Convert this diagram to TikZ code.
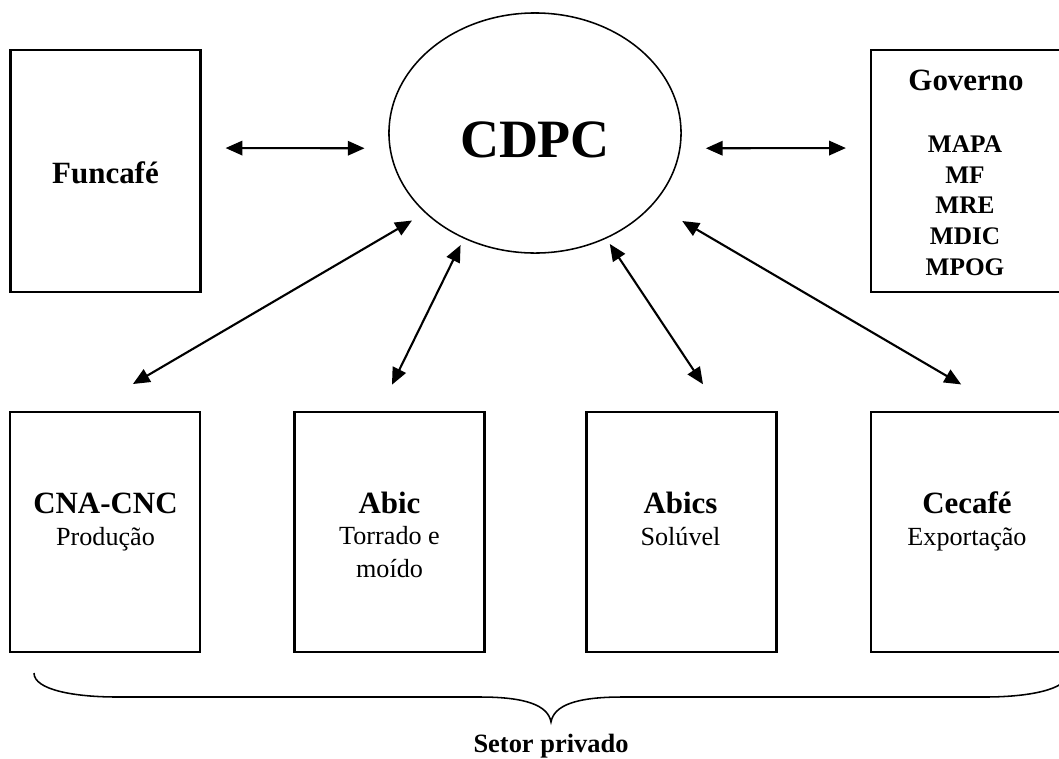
\documentclass[tikz,border=0pt]{standalone}
\usepackage{fontspec}
\setmainfont{Liberation Serif}
\usetikzlibrary{arrows.meta,shapes.geometric}

\begin{document}
\begin{tikzpicture}[
    x=0.025cm, y=-0.025cm,
    orgbox/.style={draw, line width=1.5pt, minimum width=4.75cm, minimum height=6cm, inner sep=0pt},
    link/.style={<->, >={Triangle[length=0.42cm, width=0.36cm]}, line width=1.5pt},
    orgname/.style={anchor=base, font=\fontsize{22}{26}\selectfont\bfseries},
    orgtask/.style={anchor=base, align=center, font=\fontsize{18.6}{22.8}\selectfont}
]
\useasboundingbox (0,0) rectangle (1059,758);
\clip (0,0) rectangle (1059,758);

% top row
\node[orgbox, minimum height=6.05cm] (funcafe) at (105.5,171) {};
\node[orgbox, minimum height=6.05cm] (governo) at (966,171) {};
\node[draw, ellipse, line width=1.1pt, minimum width=7.3cm, minimum height=6cm] (cdpc) at (535,133) {};

\node[anchor=base, font=\fontsize{38.4}{40}\selectfont\bfseries] (cdpc-t) at (535,157) {CDPC};
\node[orgname] (funcafe-t) at (105.5,183) {Funcafé};
\node[orgname] (governo-t) at (966,90) {Governo};
% base of a multi-line node is its last line
\node[anchor=base, align=center, font=\fontsize{18}{21.7}\selectfont\bfseries] (governo-l) at (965,275) {MAPA\\MF\\MRE\\MDIC\\MPOG};

% private sector
\node[orgbox] (cna) at (105,532) {};
\node[orgbox] (abic) at (389.5,532) {};
\node[orgbox] (abics) at (681.5,532) {};
\node[orgbox] (cecafe) at (966,532) {};

\node[orgname] (cna-t) at (105.5,513) {CNA-CNC};
\node[orgtask] (cna-s) at (105.5,545) {Produção};
\node[orgname] (abic-t) at (389.5,513) {Abic};
\node[orgtask] (abic-s) at (389.5,577) {Torrado e\\moído};
\node[orgname] (abics-t) at (680.5,513) {Abics};
\node[orgtask] (abics-s) at (680.5,545) {Solúvel};
\node[orgname] (cecafe-t) at (967,513) {Cecafé};
\node[orgtask] (cecafe-s) at (967,545) {Exportação};

% links
\draw[link, shorten <=0.6cm, shorten >=0.62cm] ([yshift=0.575cm]funcafe.east) -- (cdpc.186);
\draw[link, shorten <=0.63cm, shorten >=0.6cm] (cdpc.354) -- ([yshift=0.575cm]governo.west);
\draw[link, shorten <=0.375cm, shorten >=1.33cm] (cdpc.216) -- ([xshift=-0.45cm]cna.north);
\draw[link, shorten <=0.18cm, shorten >=0.73cm] (cdpc.236.5) -- ([xshift=-0.26cm]abic.north);
\draw[link, shorten <=0.16cm, shorten >=0.8cm] (cdpc.304) -- ([xshift=0.98cm]abics.north);
\draw[link, shorten <=0.83cm, shorten >=1.31cm] (cdpc.329.5) -- ([xshift=1.01cm]cecafe.north);

% brace
\draw[line width=1.1pt] (34,673) .. controls (34,690) and (75,697) .. (117,697) -- (480,697)
    .. controls (525,697) and (548,705) .. (551,722)
    .. controls (554,705) and (577,697) .. (622,697) -- (985,697)
    .. controls (1027,697) and (1068,690) .. (1068,673);
\node[anchor=base, font=\fontsize{18.8}{22}\selectfont\bfseries] (setor) at (551,752) {Setor privado};

\end{tikzpicture}
\end{document}
